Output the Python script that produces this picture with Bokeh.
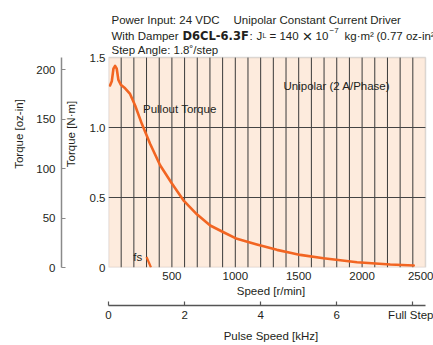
from bokeh.plotting import figure
from bokeh.models import Range1d, LinearAxis, FixedTicker, CustomJSTickFormatter, Label, BoxAnnotation
from bokeh.embed import file_html
from bokeh.resources import INLINE

# ---------------- data ----------------
speed_rpm = [12, 26, 39, 52, 65, 78, 97, 131, 170, 210, 263, 328, 407, 500, 591,
             697, 802, 907, 1013, 1170, 1328, 1433, 1512, 1696, 1960, 2222, 2407]
torque_nm = [1.30, 1.33, 1.42, 1.44, 1.42, 1.34, 1.305, 1.28, 1.24, 1.157, 1.026,
             0.884, 0.73, 0.60, 0.48, 0.38, 0.30, 0.252, 0.205, 0.164, 0.126,
             0.105, 0.09, 0.066, 0.038, 0.021, 0.014]
fs_speed_rpm = [300, 335]
fs_torque_nm = [0.075, 0.0]

speed_ticks = [500, 1000, 1500, 2000, 2500]
speed_grid = list(range(100, 2500, 100))
torque_nm_ticks = [0, 0.5, 1.0, 1.5]
torque_nm_grid = [0.5, 1.0]
torque_ozin_ticks = [0, 50, 100, 150, 200]
pulse_khz_ticks = [0, 2, 4, 6, 8]

SPEED_MAX = 2500
TORQUE_MAX = 1.5
NM_TO_OZIN = 141.612
RPM_PER_KHZ = 300  # 1.8 deg/step -> 200 steps/rev

# ---------------- layout (pixels) ----------------
W, H = 433, 345
LEFT = 108          # chart area left edge
CHART_W = 317       # chart area width
CHART_TOP = 57      # chart area top edge (header texts above it)
CHART_H = 210       # chart area height
FRAME_W = W - LEFT                  # frame reaches the right edge of the page
FRAME_H = CHART_TOP + CHART_H       # frame also holds the header texts
X_END = SPEED_MAX * FRAME_W / CHART_W
Y_END = TORQUE_MAX * FRAME_H / CHART_H

FONT = "Liberation Sans"
FS = "11.5px"
TXT = "#231f20"
ORANGE = "#F26522"
GRID = "#3a3a3a"
BORDER = "#8f8f8f"

p = figure(frame_width=FRAME_W, frame_height=FRAME_H,
           x_range=Range1d(0, X_END), y_range=Range1d(0, Y_END),
           output_backend="svg", toolbar_location=None,
           min_border_left=LEFT, min_border_right=0, min_border_top=0,
           min_border_bottom=H - FRAME_H)
p.title.visible = False
p.background_fill_color = "white"
p.border_fill_color = "white"
p.outline_line_color = None
p.grid.visible = False

p.extra_y_ranges = {"oz": Range1d(0, Y_END * NM_TO_OZIN)}
p.extra_x_ranges = {"khz": Range1d(0, X_END / RPM_PER_KHZ)}

# chart area (peach)
p.add_layout(BoxAnnotation(left=0, right=SPEED_MAX, bottom=0, top=TORQUE_MAX,
                           fill_color="#FDEBDD", fill_alpha=1.0, line_color=None,
                           level="underlay"))

# grid lines inside the chart area
p.segment(x0=speed_grid, y0=0, x1=speed_grid, y1=TORQUE_MAX, line_color=GRID, line_width=1)
p.segment(x0=0, y0=torque_nm_grid, x1=SPEED_MAX, y1=torque_nm_grid, line_color="#444444", line_width=1.2)

def style_axis(ax):
    ax.major_label_text_font = FONT
    ax.major_label_text_font_size = FS
    ax.major_label_text_color = TXT
    ax.axis_label_text_font = FONT
    ax.axis_label_text_font_size = FS
    ax.axis_label_text_font_style = "normal"
    ax.axis_label_text_color = TXT
    ax.minor_tick_line_color = None

# primary y (N·m)
ya = p.yaxis[0]
style_axis(ya)
ya.ticker = FixedTicker(ticks=torque_nm_ticks)
ya.formatter = CustomJSTickFormatter(code="return tick == 0 ? '0' : tick.toFixed(1)")
ya.axis_label = "Torque [N·m]"
ya.axis_line_color = None
ya.major_tick_line_color = None
ya.major_tick_out = 0
ya.major_tick_in = 0
ya.major_label_standoff = 3
ya.axis_label_standoff = 10

# primary x (rpm)
xa = p.xaxis[0]
style_axis(xa)
xa.ticker = FixedTicker(ticks=speed_ticks)
xa.axis_label = "Speed [r/min]"
xa.axis_line_color = None
xa.major_tick_line_color = None
xa.major_tick_out = 0
xa.major_tick_in = 0
xa.major_label_standoff = 4
xa.axis_label_standoff = 2

# left spacer (empty axis)
p.add_layout(LinearAxis(ticker=FixedTicker(ticks=[]), axis_line_color=None,
                        major_tick_out=6, major_tick_in=0, major_label_standoff=0,
                        major_tick_line_color=None, minor_tick_line_color=None), "left")

oz = LinearAxis(y_range_name="oz", ticker=FixedTicker(ticks=torque_ozin_ticks),
                axis_label="Torque [oz-in]", bounds=(0, TORQUE_MAX * NM_TO_OZIN))
style_axis(oz)
oz.axis_line_color = "#8a8a8a"
oz.axis_line_width = 1.5
oz.major_tick_line_color = "#8a8a8a"
oz.major_tick_line_width = 1.2
oz.major_tick_out = 0
oz.major_tick_in = 4
oz.major_label_standoff = 6
oz.axis_label_standoff = 8
p.add_layout(oz, "left")

# bottom spacer: blank tick label gives the gap
p.add_layout(LinearAxis(ticker=FixedTicker(ticks=[SPEED_MAX / 2]),
                        formatter=CustomJSTickFormatter(code="return ' '"),
                        major_label_text_font=FONT, major_label_text_font_size="3px",
                        axis_line_color=None, major_tick_out=0, major_tick_in=0,
                        major_label_standoff=0, major_tick_line_color=None,
                        minor_tick_line_color=None), "below")

kh = LinearAxis(x_range_name="khz", ticker=FixedTicker(ticks=pulse_khz_ticks),
                axis_label="Pulse Speed [kHz]", bounds=(0, SPEED_MAX / RPM_PER_KHZ))
style_axis(kh)
kh.formatter = CustomJSTickFormatter(code="return tick == 8 ? 'Full Step' : tick.toFixed(0)")
kh.axis_line_color = "#555555"
kh.axis_line_width = 1.5
kh.major_tick_line_color = "#555555"
kh.major_tick_line_width = 1.2
kh.major_tick_out = 0
kh.major_tick_in = 4
kh.major_label_standoff = 3
kh.axis_label_standoff = 6
p.add_layout(kh, "below")

# curves
p.line(speed_rpm, torque_nm, line_color=ORANGE, line_width=2.6, line_join="round", line_cap="round")
p.line(fs_speed_rpm, fs_torque_nm, line_color=ORANGE, line_width=2.2)

# chart border on top of grid lines
p.add_layout(BoxAnnotation(left=0, right=SPEED_MAX, bottom=0, top=TORQUE_MAX,
                           fill_color=None, fill_alpha=0, line_color=BORDER, line_width=1.5))

# in-plot labels
def dlabel(x, y, text, size=FS):
    p.add_layout(Label(x=x, y=y, text=text, text_font=FONT, text_font_size=size,
                       text_color=TXT, text_baseline="middle", text_align="left"))

dlabel(272, 1.13, "Pullout Torque")
dlabel(1380, 1.30, "Unipolar (2 A/Phase)")
dlabel(195, 0.075, "fs")

# header texts (screen units relative to frame: x from frame left, y up from frame bottom)
def hlabel(px, baseline_py, text, size=FS, style="normal", font=FONT):
    p.add_layout(Label(x=px - LEFT, y=FRAME_H - baseline_py, x_units="screen", y_units="screen",
                       text=text, text_font=font, text_font_size=size, text_font_style=style,
                       text_color=TXT, text_baseline="alphabetic", text_align="left"))

hlabel(111, 19, "Power Input: 24 VDC")
hlabel(233, 19, "Unipolar Constant Current Driver")
hlabel(111, 35, "With Damper")
hlabel(182, 35, "D6CL-6.3F", style="bold", font="DejaVu Sans")
hlabel(249, 35, ":")
hlabel(256, 35, "J")
hlabel(262, 35, "L", size="7px")
hlabel(269, 35, "= 140")
hlabel(302, 35.5, "×", size="17px")
hlabel(315, 35, "10")
hlabel(329, 30, "−7", size="8px")
hlabel(344, 35, "kg·m²")
hlabel(376, 35, "(0.77 oz-in²)")
hlabel(111, 49, "Step Angle: 1.8˚/step")

open("out.html", "w").write(file_html(p, INLINE))
